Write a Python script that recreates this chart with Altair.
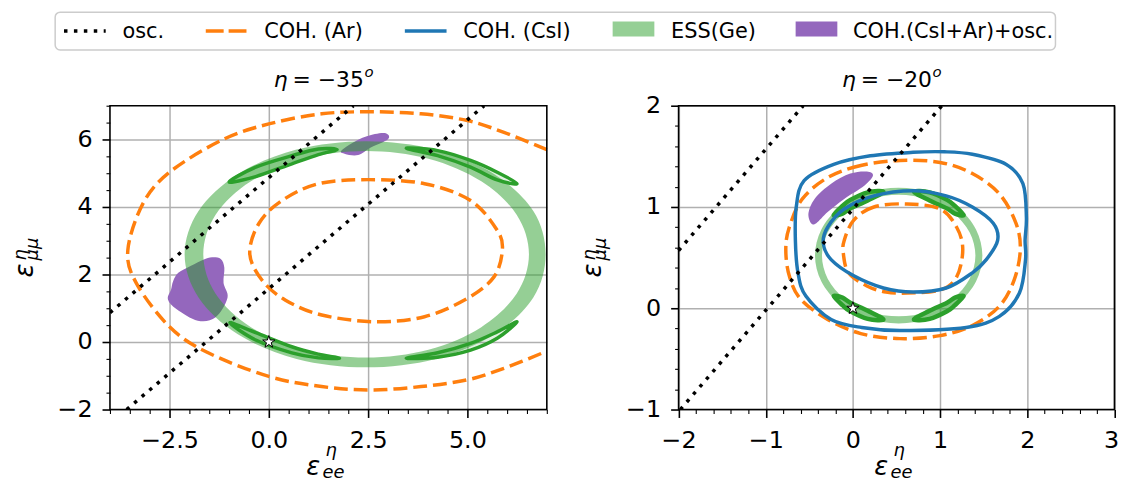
import altair as alt
import pandas as pd

ORANGE = "#ff7f0e"
BLUE = "#1f77b4"
GREEN = "#2ca02c"
PURPLE = "#9467bd"
FONT = "DejaVu Sans"

LEGEND_LABELS = ["osc.", "COH. (Ar)", "COH. (CsI)", "ESS(Ge)", "COH.(CsI+Ar)+osc."]
ETA_VALUES = ["−35", "−20"]

# ---------------- ticks ----------------
LX_TICKS = [-4.0, -3.5, -3.0, -2.5, -2.0, -1.5, -1.0, -0.5, 0.0, 0.5, 1.0, 1.5, 2.0,
            2.5, 3.0, 3.5, 4.0, 4.5, 5.0, 5.5, 6.0, 6.5, 7.0]
LY_TICKS = [-2.0, -1.5, -1.0, -0.5, 0.0, 0.5, 1.0, 1.5, 2.0, 2.5, 3.0, 3.5, 4.0, 4.5,
            5.0, 5.5, 6.0, 6.5, 7.0]
RX_TICKS = [-2.0, -1.8, -1.6, -1.4, -1.2, -1.0, -0.8, -0.6, -0.4, -0.2, 0.0, 0.2, 0.4,
            0.6, 0.8, 1.0, 1.2, 1.4, 1.6, 1.8, 2.0, 2.2, 2.4, 2.6, 2.8, 3.0]
RY_TICKS = [-1.0, -0.8, -0.6, -0.4, -0.2, 0.0, 0.2, 0.4, 0.6, 0.8, 1.0, 1.2, 1.4, 1.6,
            1.8, 2.0]

# ---------------- left panel (eta = -35) ----------------
L_AR_OUT_X = [7.00, 5.92, 5.00, 3.83, 2.58, 1.33, 0.00, -1.17, -2.50, -3.17, -3.55, -3.33,
              -2.50, -1.58, 0.00, 1.33, 2.58, 3.83, 5.00, 5.92, 7.00]
L_AR_OUT_Y = [5.70, 6.21, 6.56, 6.76, 6.82, 6.76, 6.46, 5.99, 5.03, 4.10, 2.72, 1.73,
              0.45, -0.29, -1.02, -1.32, -1.42, -1.32, -1.12, -0.78, -0.27]
L_AR_IN_X = [5.88, 5.75, 5.08, 3.92, 2.50, 1.25, 0.33, -0.25, -0.48, -0.17, 0.42, 1.33,
             2.67, 3.92, 5.00, 5.67]
L_AR_IN_Y = [2.72, 3.31, 4.19, 4.69, 4.81, 4.69, 4.19, 3.51, 2.62, 1.83, 1.24, 0.80,
             0.60, 0.75, 1.29, 1.93]
L_RING_OUT_X = [6.97, 6.66, 5.68, 4.20, 2.45, 0.70, -0.78, -1.77, -2.12, -1.77, -0.78, 0.70,
                2.45, 4.20, 5.68, 6.66]
L_RING_OUT_Y = [2.60, 3.88, 4.97, 5.70, 5.95, 5.70, 4.97, 3.88, 2.60, 1.32, 0.23, -0.50,
                -0.75, -0.50, 0.23, 1.32]
L_RING_IN_X = [6.55, 6.24, 5.35, 4.02, 2.45, 0.88, -0.45, -1.34, -1.65, -1.34, -0.45, 0.88,
               2.45, 4.02, 5.35, 6.24]
L_RING_IN_Y = [2.60, 3.77, 4.76, 5.43, 5.66, 5.43, 4.76, 3.77, 2.60, 1.43, 0.44, -0.23,
               -0.46, -0.23, 0.44, 1.43]
L_LENS_X = [[-1.00, -0.33, 0.58, 1.25, 1.72, 1.25, 0.58, -0.33],
            [3.46, 4.25, 5.08, 5.75, 6.25, 5.75, 5.08, 4.25],
            [-0.98, -0.33, 0.58, 1.25, 1.78, 1.25, 0.58, -0.33],
            [3.46, 4.25, 5.08, 5.75, 6.25, 5.75, 5.08, 4.25]]
L_LENS_Y = [[4.74, 5.18, 5.52, 5.72, 5.70, 5.55, 5.28, 4.90],
            [5.74, 5.67, 5.38, 5.03, 4.69, 4.80, 5.18, 5.52],
            [0.57, 0.28, -0.14, -0.36, -0.48, -0.47, -0.32, 0.06],
            [-0.48, -0.32, -0.04, 0.30, 0.60, 0.11, -0.24, -0.45]]
L_BLOB_X = [[-2.46, -2.54, -2.32, -1.79, -1.34, -1.04, -1.14, -1.12, -1.21, -1.43, -1.65,
             -1.96, -2.28, -2.41],
            [1.83, 2.25, 2.67, 2.96, 3.00, 2.58, 2.25, 1.92]]
L_BLOB_Y = [[1.56, 1.26, 0.97, 0.63, 0.73, 1.31, 1.75, 2.20, 2.46, 2.51, 2.44, 2.26, 2.05,
             1.80],
            [5.67, 5.99, 6.16, 6.18, 6.01, 5.77, 5.54, 5.57]]
L_OSC_X = [[-4.00, 2.13], [-3.58, 5.42]]
L_OSC_Y = [[0.87, 7.00], [-2.00, 7.00]]

# ---------------- right panel (eta = -20) ----------------
R_AR_OUT_X = [0.54, 0.09, -0.29, -0.58, -0.73, -0.77, -0.73, -0.60, -0.29, 0.09, 0.54, 1.00,
              1.37, 1.68, 1.85, 1.92, 1.87, 1.68, 1.37, 1.00]
R_AR_OUT_Y = [1.46, 1.41, 1.29, 1.08, 0.80, 0.58, 0.32, 0.09, -0.11, -0.25, -0.30, -0.27,
              -0.17, 0.02, 0.28, 0.58, 0.84, 1.13, 1.33, 1.44]
R_AR_IN_X = [0.62, 0.24, 0.01, -0.10, -0.11, -0.05, 0.16, 0.38, 0.62, 1.00, 1.19, 1.26,
             1.19, 1.00]
R_AR_IN_Y = [1.03, 1.00, 0.87, 0.67, 0.54, 0.35, 0.22, 0.16, 0.15, 0.18, 0.31, 0.58,
             0.80, 0.98]
R_CSI_OUT_X = [0.69, 0.20, -0.22, -0.56, -0.65, -0.66, -0.63, -0.54, -0.25, 0.10, 0.54, 1.30,
               1.68, 1.91, 1.98, 1.975, 1.99, 1.95, 1.76, 1.37, 1.05]
R_CSI_OUT_Y = [1.54, 1.505, 1.42, 1.26, 1.00, 0.67, 0.35, 0.12, -0.11, -0.19, -0.22, -0.19,
               -0.08, 0.15, 0.48, 0.67, 0.90, 1.23, 1.42, 1.52, 1.545]
R_CSI_IN_X = [0.69, 0.24, -0.10, -0.29, -0.34, -0.25, 0.01, 0.35, 0.69, 1.07, 1.37, 1.53,
              1.66, 1.61, 1.37, 1.07]
R_CSI_IN_Y = [1.16, 1.11, 0.98, 0.80, 0.64, 0.48, 0.32, 0.20, 0.16, 0.20, 0.35, 0.48,
              0.67, 0.84, 1.00, 1.11]
R_RING_OUT_X = [1.485, 1.412, 1.204, 0.893, 0.525, 0.157, -0.154, -0.362, -0.435, -0.362,
                -0.154, 0.157, 0.525, 0.893, 1.204, 1.412]
R_RING_OUT_Y = [0.52, 0.777, 0.994, 1.139, 1.19, 1.139, 0.994, 0.777, 0.52, 0.263, 0.046,
                -0.099, -0.15, -0.099, 0.046, 0.263]
R_RING_IN_X = [1.405, 1.338, 1.147, 0.862, 0.525, 0.188, -0.097, -0.288, -0.355, -0.288,
               -0.097, 0.188, 0.525, 0.862, 1.147, 1.338]
R_RING_IN_Y = [0.52, 0.75, 0.944, 1.074, 1.12, 1.074, 0.944, 0.75, 0.52, 0.29, 0.096,
               -0.034, -0.08, -0.034, 0.096, 0.29]
R_LENS_X = [[-0.22, -0.12, -0.03, 0.17, 0.35, 0.17, -0.03, -0.12],
            [0.70, 0.88, 1.08, 1.17, 1.27, 1.17, 1.08, 0.88],
            [-0.22, -0.12, -0.03, 0.17, 0.35, 0.17, -0.03, -0.12],
            [0.70, 0.88, 1.08, 1.17, 1.27, 1.17, 1.08, 0.88]]
R_LENS_Y = [[0.92, 1.01, 1.07, 1.145, 1.15, 1.065, 0.985, 0.935],
            [1.15, 1.145, 1.07, 1.01, 0.92, 0.935, 0.985, 1.065],
            [0.12, 0.03, -0.03, -0.105, -0.11, -0.025, 0.055, 0.105],
            [-0.11, -0.105, -0.03, 0.03, 0.12, 0.105, 0.055, -0.025]]
R_BLOB_X = [[-0.48, -0.51, -0.44, -0.25, -0.03, 0.16, 0.23, 0.13, -0.10, -0.29, -0.42]]
R_BLOB_Y = [[0.84, 0.94, 1.08, 1.23, 1.33, 1.35, 1.31, 1.21, 1.08, 0.95, 0.84]]
R_OSC_X = [[-2.00, -0.57], [-1.98, 1.02]]
R_OSC_Y = [[0.57, 2.00], [-1.00, 2.00]]

STAR_X = [0.0]
STAR_Y = [0.0]

STAR_PATH = ("M0,-1L0.2245,-0.309L0.951,-0.309L0.363,0.118L0.588,0.809L0,0.382"
             "L-0.588,0.809L-0.363,0.118L-0.951,-0.309L-0.2245,-0.309Z")

ONE = pd.DataFrame({"k": [0]})

# layout (pixels, relative to the plot origin of the left panel)
H = 306
WL = 440
WR = 439
RX0 = 572.7          # left edge of the right panel
TOTAL_W = RX0 + WR


def rows(xs_list, ys_list):
    recs = []
    for g, (xs, ys) in enumerate(zip(xs_list, ys_list)):
        for i, (x, y) in enumerate(zip(xs, ys)):
            recs.append({"g": g, "i": i, "x": x, "y": y})
    return pd.DataFrame(recs)


def ring_rows(ox, oy, ix, iy):
    recs = [{"g": 0, "i": i, "x": x, "y": y} for i, (x, y) in enumerate(zip(ox, oy))]
    n = len(recs)
    recs.append({"g": 0, "i": n, "x": None, "y": None})
    for j, (x, y) in enumerate(zip(ix[::-1], iy[::-1])):
        recs.append({"g": 0, "i": n + 1 + j, "x": x, "y": y})
    return pd.DataFrame(recs)


def make_axis(values, fmt, test, pad, orient, offset=0, **extra):
    return alt.Axis(
        values=values, format=fmt, orient=orient, offset=offset,
        labelExpr="(" + test + ") ? datum.label : ''",
        tickSize={"condition": {"test": test, "value": 8}, "value": 4},
        tickWidth={"condition": {"test": test, "value": 1.6}, "value": 1.1},
        gridOpacity={"condition": {"test": test, "value": 1}, "value": 0},
        grid=True, gridColor="#b0b0b0", gridWidth=1.5, domain=False,
        tickColor="black", labelColor="black", labelFont=FONT, labelFontSize=24,
        labelPadding=pad, labelFlush=False, labelOverlap=False, title=None, **extra)


def txt(s, x, y, size, italic=False, angle=None, align="left"):
    kw = dict(text=s, font=FONT, fontSize=size, align=align, baseline="alphabetic",
              color="black")
    if italic:
        kw["fontStyle"] = "italic"
    if angle is not None:
        kw["angle"] = angle
    return alt.Chart(ONE).mark_text(**kw).encode(x=alt.value(x), y=alt.value(y))


def panel(x0, W, xdom, ydom, xaxis, yaxis, blobs, ring, lenses, lens_w, ar_closed,
          ar_open, csi_closed, osc, eta):
    X = alt.X("x:Q", scale=alt.Scale(domain=xdom, range=[x0, x0 + W], nice=False,
                                     zero=False), axis=xaxis)
    Y = alt.Y("y:Q", scale=alt.Scale(domain=ydom, range=[H, 0], nice=False, zero=False),
              axis=yaxis)

    def line(df, **kw):
        return alt.Chart(df).mark_line(clip=True, **kw).encode(
            x=X, y=Y, order="i:Q", detail="g:N")

    layers = [
        line(blobs, interpolate="cardinal-closed", filled=True, fill=PURPLE,
             fillOpacity=1, strokeOpacity=0),
        line(ring, interpolate="cardinal-closed", filled=True, fill=GREEN,
             fillOpacity=0.5, strokeOpacity=0),
        line(lenses, interpolate="cardinal-closed", fill=GREEN, fillOpacity=0.15,
             stroke=GREEN, strokeWidth=lens_w),
        line(ar_closed, interpolate="cardinal-closed", stroke=ORANGE, strokeWidth=3.5,
             strokeDash=[14, 6]),
    ]
    if ar_open is not None:
        layers.append(line(ar_open, interpolate="cardinal", stroke=ORANGE,
                           strokeWidth=3.5, strokeDash=[14, 6]))
    if csi_closed is not None:
        layers.append(line(csi_closed, interpolate="cardinal-closed", stroke=BLUE,
                           strokeWidth=3.5))
    layers.append(line(osc, stroke="black", strokeWidth=3.5, strokeDash=[3.5, 6.5],
                       strokeCap="butt"))
    star_df = pd.DataFrame({"x": STAR_X, "y": STAR_Y})
    layers.append(alt.Chart(star_df).mark_point(
        shape=STAR_PATH, size=170, filled=True, fill="white", stroke="black",
        strokeWidth=1, opacity=1).encode(x=X, y=Y))

    c = x0 + W / 2
    layers += [
        # title
        txt("η", c - 55.0, -19, 22, italic=True),
        txt("= " + eta, c - 36.1, -19, 22),
        txt("o", c + 36.3, -29, 15, italic=True),
        # x label
        txt("ε", c - 22.4, 372, 26, italic=True),
        txt("η", c - 3.0, 353.0, 18, italic=True),
        txt("ee", c - 6.0, 375.3, 18, italic=True),
        # y label (rotated)
        txt("ε", x0 - 77.7, 173, 26, italic=True, angle=270),
        txt("η", x0 - 84.6, 155.8, 18, italic=True, angle=270),
        txt("μμ", x0 - 72.7, 155.8, 18, italic=True, angle=270),
    ]
    return alt.layer(*layers)


MAJ_LX = "abs(datum.value/2.5 - round(datum.value/2.5)) < 1e-6"
MAJ_LY = "abs(datum.value/2 - round(datum.value/2)) < 1e-6"
MAJ_R = "abs(datum.value - round(datum.value)) < 1e-6"

left = panel(
    0, WL, [-4, 7], [-2, 7],
    make_axis(LX_TICKS, ".1f", MAJ_LX, 11, "bottom"),
    make_axis(LY_TICKS, ".0f", MAJ_LY, 10, "left"),
    rows(L_BLOB_X, L_BLOB_Y),
    ring_rows(L_RING_OUT_X, L_RING_OUT_Y, L_RING_IN_X, L_RING_IN_Y),
    rows(L_LENS_X, L_LENS_Y), 3.5,
    rows([L_AR_IN_X], [L_AR_IN_Y]),
    rows([L_AR_OUT_X], [L_AR_OUT_Y]),
    None,
    rows(L_OSC_X, L_OSC_Y),
    ETA_VALUES[0])

right = panel(
    RX0, WR, [-2, 3], [-1, 2],
    make_axis(RX_TICKS, ".0f", MAJ_R, 11, "bottom",
              labelOffset={"condition": {"test": "datum.value === 3", "value": -3.5},
                           "value": 0}),
    make_axis(RY_TICKS, ".0f", MAJ_R, 10, "left", -RX0),
    rows(R_BLOB_X, R_BLOB_Y),
    ring_rows(R_RING_OUT_X, R_RING_OUT_Y, R_RING_IN_X, R_RING_IN_Y),
    rows(R_LENS_X, R_LENS_Y), 4.5,
    rows([R_AR_OUT_X, R_AR_IN_X], [R_AR_OUT_Y, R_AR_IN_Y]),
    None,
    rows([R_CSI_OUT_X, R_CSI_IN_X], [R_CSI_OUT_Y, R_CSI_IN_Y]),
    rows(R_OSC_X, R_OSC_Y),
    ETA_VALUES[1])

# panel frames
frames = [
    alt.Chart(ONE).mark_rect(fill="transparent", stroke="black", strokeWidth=1.6).encode(
        x=alt.value(0), x2=alt.value(WL), y=alt.value(0), y2=alt.value(H)),
    alt.Chart(ONE).mark_rect(fill="transparent", stroke="black", strokeWidth=1.6).encode(
        x=alt.value(RX0), x2=alt.value(RX0 + WR), y=alt.value(0), y2=alt.value(H)),
]

# legend
LY0 = -75.2
legend = [
    alt.Chart(ONE).mark_rect(fill="white", stroke="#cccccc", strokeWidth=1.5,
                             cornerRadius=5).encode(
        x=alt.value(-55.2), x2=alt.value(952.3), y=alt.value(-94.2), y2=alt.value(-56.2)),
    alt.Chart(ONE).mark_rule(stroke="black", strokeWidth=3.5, strokeDash=[3.5, 6.5],
                             strokeCap="butt").encode(
        x=alt.value(-46.3), x2=alt.value(-4.3), y=alt.value(LY0)),
    alt.Chart(ONE).mark_rule(stroke=ORANGE, strokeWidth=3.5, strokeDash=[18, 5],
                             strokeCap="butt").encode(
        x=alt.value(96.5), x2=alt.value(138.5), y=alt.value(LY0)),
    alt.Chart(ONE).mark_rule(stroke=BLUE, strokeWidth=3.5, strokeCap="butt").encode(
        x=alt.value(297), x2=alt.value(339), y=alt.value(LY0)),
    alt.Chart(ONE).mark_rect(fill=GREEN, fillOpacity=0.5).encode(
        x=alt.value(506.3), x2=alt.value(548.3), y=alt.value(-84.7), y2=alt.value(-69.7)),
    alt.Chart(ONE).mark_rect(fill=PURPLE).encode(
        x=alt.value(690.6), x2=alt.value(732.6), y=alt.value(-84.7), y2=alt.value(-69.7)),
]
for lab, lx in zip(LEGEND_LABELS, [12.5, 155.3, 355.8, 565.1, 748.4]):
    legend.append(txt(lab, lx, -68, 21))

PAD_L, PAD_T = 102.7, 96.7
chart = alt.layer(left, right, *frames, *legend).resolve_scale(
    x="independent", y="independent"
).resolve_axis(
    x="independent", y="independent"
).properties(
    width=TOTAL_W, height=H,
    padding={"left": PAD_L, "top": PAD_T, "right": 1120 - PAD_L - TOTAL_W,
             "bottom": 476 - PAD_T - H},
    autosize=alt.AutoSizeParams(type="none"),
    background="white",
).configure_view(stroke="transparent")

chart.save("out.html", embed_options={"renderer": "svg", "actions": False})
